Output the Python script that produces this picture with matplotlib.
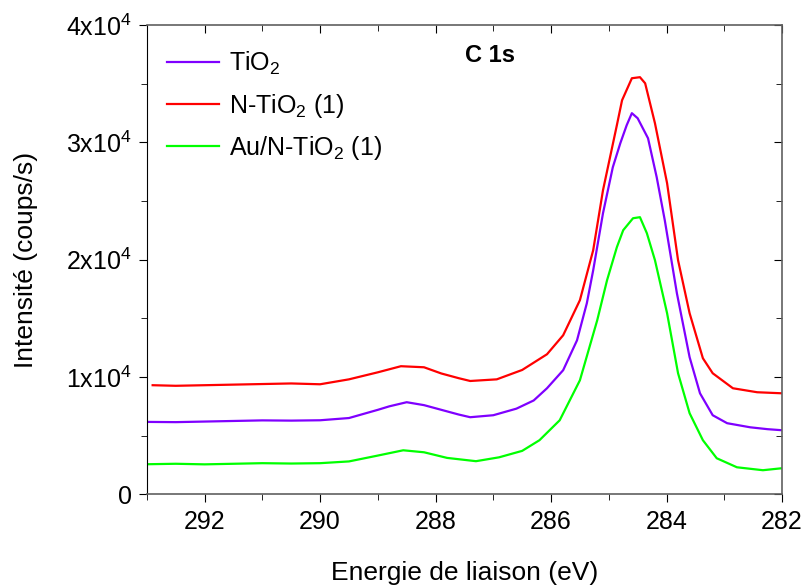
import numpy as np
import matplotlib
matplotlib.use("Agg")
import matplotlib.pyplot as plt

plt.rcParams['font.family'] = ['Liberation Sans', 'DejaVu Sans']
plt.rcParams['mathtext.fontset'] = 'custom'
plt.rcParams['mathtext.rm'] = 'Liberation Sans'
plt.rcParams['mathtext.it'] = 'Liberation Sans'

# C 1s spectra (binding energy eV, counts/s)
e_tio2 = [293.0, 292.5, 292.0, 291.5, 291.0, 290.5, 290.0, 289.5, 289.0, 288.8, 288.5, 288.2,
          287.9, 287.6, 287.4, 287.0, 286.6, 286.3, 286.07, 285.79, 285.55, 285.38, 285.27,
          285.1, 284.93, 284.8, 284.69, 284.6, 284.5, 284.32, 284.17, 284.03, 283.82, 283.6,
          283.42, 283.2, 282.95, 282.55, 282.25, 282.0]
i_tio2 = [6170, 6150, 6200, 6250, 6300, 6280, 6310, 6500, 7200, 7500, 7850, 7600,
          7200, 6800, 6570, 6740, 7300, 8000, 9040, 10580, 13130, 16290, 19100,
          23970, 27890, 29940, 31470, 32500, 32070, 30360, 27040, 23370, 17140, 11690,
          8610, 6740, 6060, 5710, 5550, 5460]

e_n = [292.9, 292.5, 292.0, 291.5, 291.0, 290.5, 290.0, 289.5, 289.0, 288.6, 288.2,
       287.9, 287.6, 287.4, 286.94, 286.5, 286.07, 285.79, 285.5, 285.27, 285.1, 284.86,
       284.77, 284.6, 284.46, 284.37, 284.2, 283.99, 283.8, 283.6, 283.37, 283.2, 282.85,
       282.43, 282.0]
i_n = [9300, 9250, 9300, 9350, 9400, 9450, 9380, 9800, 10400, 10920, 10830,
       10300, 9900, 9660, 9800, 10600, 11940, 13560, 16550, 20810, 25930, 31470,
       33600, 35480, 35570, 35050, 31640, 26530, 19960, 15440, 11600, 10320, 9040,
       8700, 8610]

e_au = [293.0, 292.5, 292.0, 291.5, 291.0, 290.5, 290.0, 289.5, 289.0, 288.56, 288.2,
        287.8, 287.3, 286.9, 286.5, 286.2, 285.85, 285.5, 285.2, 285.03, 284.86, 284.75,
        284.58, 284.46, 284.34, 284.2, 283.99, 283.8, 283.6, 283.37, 283.13, 282.78,
        282.33, 282.0]
i_au = [2560, 2600, 2550, 2600, 2650, 2620, 2650, 2800, 3300, 3750, 3580,
        3100, 2820, 3150, 3700, 4610, 6310, 9720, 14840, 18250, 21070, 22520,
        23540, 23630, 22260, 19960, 15440, 10320, 6910, 4610, 3070, 2300,
        2050, 2220]

fig = plt.figure(figsize=(8.07, 5.87), dpi=100)
ax = fig.add_axes([0.182, 0.158, 0.787, 0.799])

ax.plot(e_tio2, i_tio2, color='#7F00FF', lw=1.6, label='TiO$_2$')
ax.plot(e_n, i_n, color='#FF0000', lw=1.6, label='N-TiO$_2$ (1)')
ax.plot(e_au, i_au, color='#00FF00', lw=1.6, label='Au/N-TiO$_2$ (1)')

ax.set_xlim(293, 282)
ax.set_ylim(0, 40000)
ax.set_xticks([292, 290, 288, 286, 284, 282])
ax.set_xticks(np.arange(282, 294, 1), minor=True)
ax.set_yticks([0, 10000, 20000, 30000, 40000])
ax.set_yticklabels(['0', '1x10$^4$', '2x10$^4$', '3x10$^4$', '4x10$^4$'])
ax.set_yticks(np.arange(0, 40001, 5000), minor=True)

ax.tick_params(axis='both', which='major', labelsize=18, length=6, direction='out', pad=5)
ax.tick_params(axis='both', which='minor', length=4, direction='out')
ax.tick_params(top=True, right=True, which='both')
for t in ax.xaxis.get_major_ticks() + ax.xaxis.get_minor_ticks():
    t.tick2line.set_marker(matplotlib.lines.TICKDOWN)
for t in ax.yaxis.get_major_ticks() + ax.yaxis.get_minor_ticks():
    t.tick2line.set_marker(matplotlib.lines.TICKLEFT)

for s in ['bottom', 'right', 'top']:
    ax.spines[s].set_color('#606060')
    ax.spines[s].set_linewidth(1.2)
ax.spines['left'].set_color('black')

ax.set_xlabel('Energie de liaison (eV)', fontsize=19, labelpad=20)
ax.set_ylabel('Intensité (coups/s)', fontsize=19, labelpad=20)

ax.text(0.54, 0.935, 'C 1s', transform=ax.transAxes, fontsize=17,
        fontweight='bold', ha='center', va='center')

ax.legend(loc='upper left', bbox_to_anchor=(0.0, 0.99), frameon=False,
          fontsize=18, handlelength=2.1, handletextpad=0.4, labelspacing=0.58,
          borderpad=0.3)

fig.savefig('out.png', dpi=100)
